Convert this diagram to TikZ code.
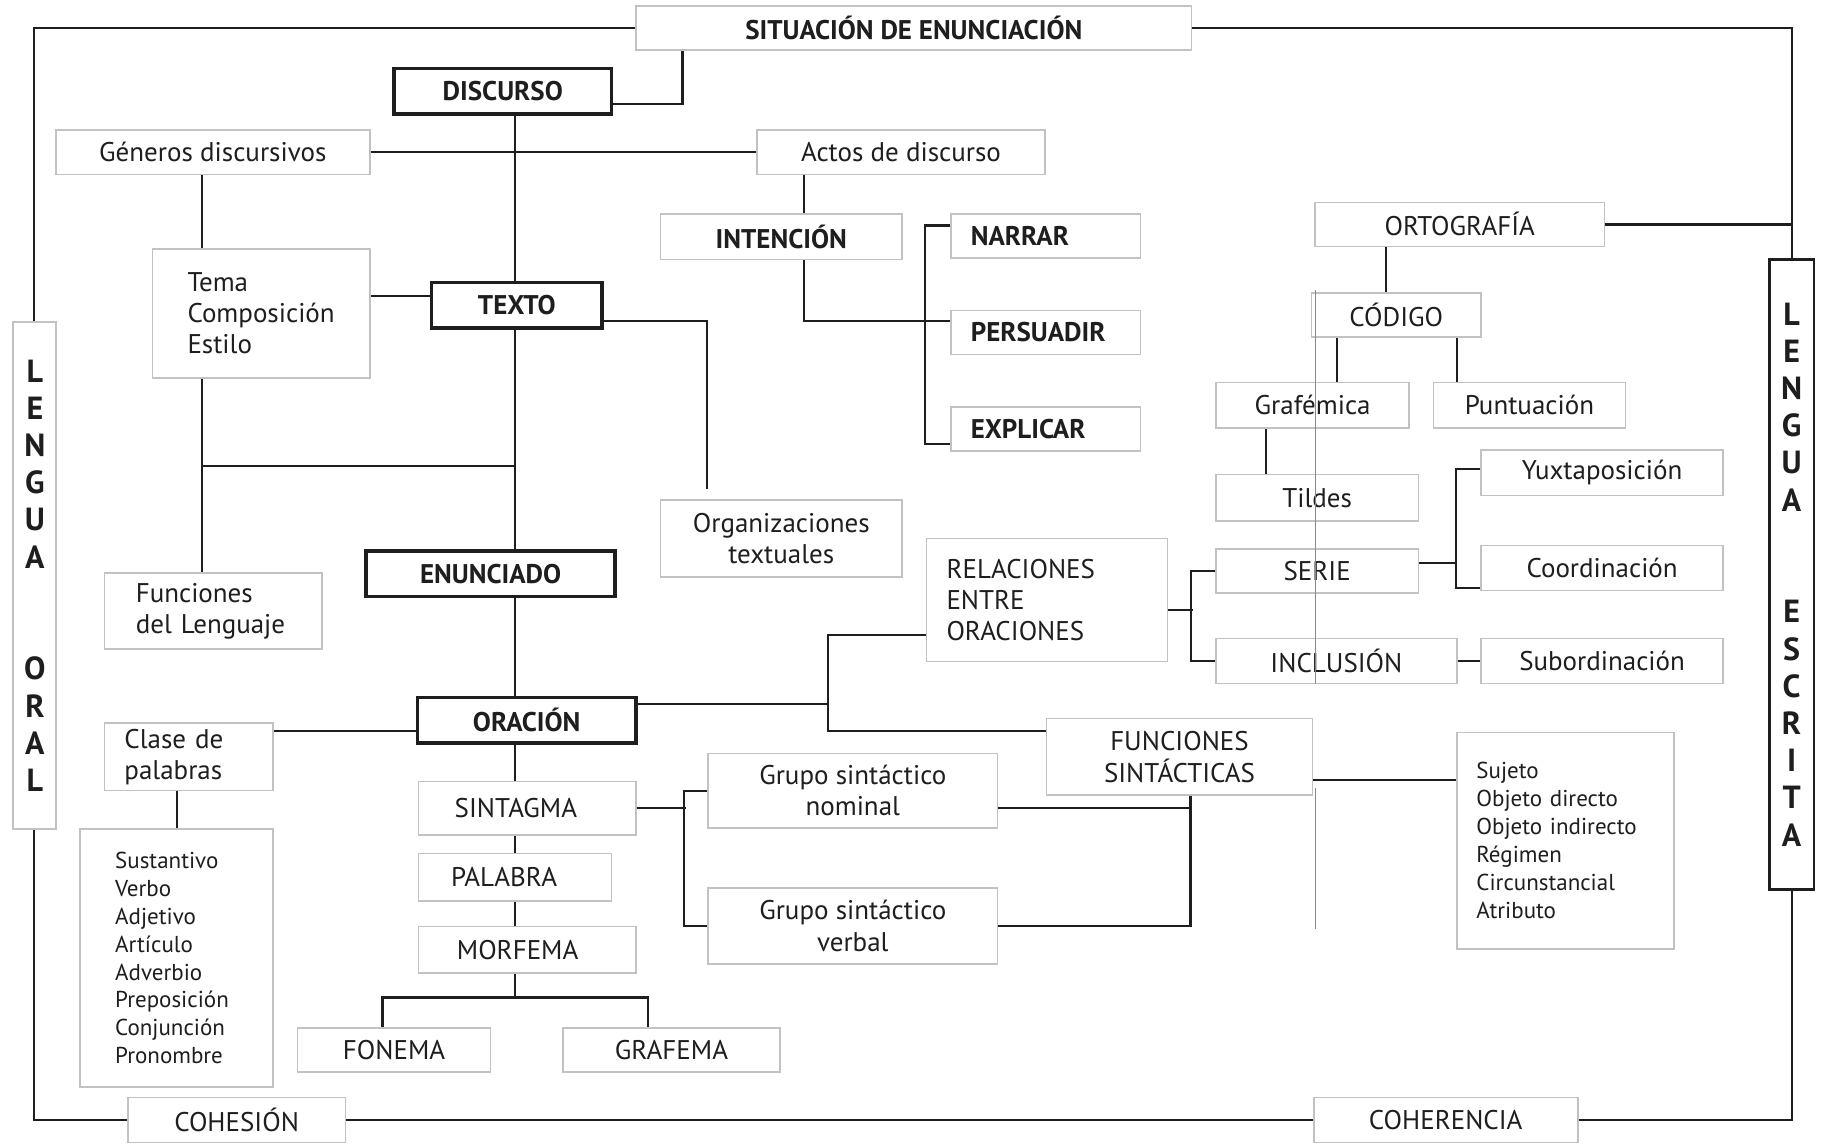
\documentclass[tikz,border=0pt]{standalone}
\usepackage{fontspec}
\setmainfont{PT Sans}
\usepackage{xcolor}
\usepackage{tikz}
\definecolor{boxgray}{HTML}{C2C2C2}
\definecolor{ink}{HTML}{1E1E1E}
\newcommand{\cmapfont}{\fontsize{27}{31.4}\selectfont}
\newcommand{\cmapsmall}{\fontsize{23}{27.9}\selectfont}
\newcommand{\cmapletter}{\fontsize{32}{32}\selectfont\bfseries}
\hyphenpenalty=10000
\tikzset{
  box/.style 2 args={draw=boxgray, line width=1.6pt, fill=white, inner sep=0pt,
    minimum width=#1pt, minimum height=#2pt, text=ink, font=\cmapfont},
  boldbox/.style 2 args={box={#1}{#2}, font=\cmapfont\bfseries},
  mainbox/.style 2 args={box={#1}{#2}, draw=ink, line width=3.6pt, font=\cmapfont\bfseries},
  vletter/.style={font=\cmapletter, text=ink, inner sep=0pt}
}

\begin{document}
\begin{tikzpicture}[x=1pt, y=-1pt]
        \useasboundingbox[fill=white] (0,0) rectangle (1823,1144);
        \begin{scope}
          \node[boldbox={555.7}{44}] (sit) at (913.8,28) {SITUACIÓN DE ENUNCIACIÓN};
          \node[mainbox={217.5}{45.4}] (disc) at (502.8,91.3) {DISCURSO};
          \node[mainbox={170.9}{45.4}] (texto) at (516.8,305.2) {TEXTO};
          \node[mainbox={248.8}{45.3}] (enun) at (490.6,573.7) {ENUNCIADO};
          \node[mainbox={218.5}{45.3}] (orac) at (526.7,720.2) {ORACIÓN};
          \node[box={217.4}{53.4}, align=left, text width=145pt] (sint) at (527.2,808) {SINTAGMA};
          \node[box={193}{47.7}, align=left, text width=128pt] (pal) at (515,877.2) {PALABRA};
          \node[box={217.4}{46.5}, align=left, text width=140.6pt] (morf) at (527.2,949.9) {MORFEMA};
          \node[box={193}{44.2}] (fon) at (394.1,1049.8) {FONEMA};
          \node[box={217.4}{44.2}] (grafe) at (671.4,1049.8) {GRAFEMA};
          \node[box={313.9}{44.2}] (gen) at (212.8,152.3) {Géneros discursivos};
          \node[box={288.3}{44.2}] (actos) at (901,152.3) {Actos de discurso};
          \node[box={217.4}{129}, align=left, text width=147pt] (tema) at (261,313.3) {Tema\\Composición\\Estilo};
          \node[box={217.4}{75.5}, align=left, text width=155pt] (func) at (213.3,611) {Funciones\\del Lenguaje};
          \node[box={241.8}{76.8}, align=center] (orga) at (781.3,538.3) {Organizaciones\\textuales};
          \node[boldbox={241.8}{45.4}] (inten) at (781.3,236.6) {INTENCIÓN};
          \node[boldbox={189.5}{44.2}, align=left, text width=150pt] (narr) at (1045.8,236) {NARRAR};
          \node[boldbox={189.5}{44.2}, align=left, text width=150pt] (pers) at (1045.8,332.5) {PERSUADIR};
          \node[boldbox={189.5}{44.2}, align=left, text width=150pt] (expl) at (1045.8,429) {EXPLICAR};
          \node[box={168.6}{67.5}, align=left, text width=129pt] (clase) at (188.9,756.9) {Clase de\\palabras};
          \node[box={193}{258.1}, align=left, text width=123pt, font=\cmapsmall] (clist) at (176.7,958) {Sustantivo\\Verbo\\Adjetivo\\Artículo\\Adverbio\\Preposición\\Conjunción\\Pronombre};
          \node[box={240.7}{123.2}, align=left, text width=201pt] (rel) at (1047,600) {RELACIONES\\ENTRE\\ORACIONES};
          \node[box={202.3}{44.2}] (serie) at (1317.2,570.8) {SERIE};
          \node[box={240.6}{45.3}] (incl) at (1336.4,661) {INCLUSIÓN};
          \node[box={241.8}{45.3}] (subo) at (1602.1,661) {Subordinación};
          \node[box={241.8}{45.4}] (yuxt) at (1602.1,472.6) {Yuxtaposición};
          \node[box={241.8}{45.3}] (coord) at (1602.1,568) {Coordinación};
          \node[box={289.5}{44.2}] (orto) at (1459.7,224.4) {ORTOGRAFÍA};
          \node[box={169.8}{44.2}] (cod) at (1396.3,315.1) {CÓDIGO};
          \node[box={193}{45.3}] (grafm) at (1312.6,405.2) {Grafémica};
          \node[box={191.8}{45.3}] (punt) at (1529.4,405.2) {Puntuación};
          \node[box={202.3}{46.5}] (tild) at (1317.2,497.6) {Tildes};
          \node[box={266.3}{76.7}, align=center] (fsin) at (1179.5,756.9) {FUNCIONES\\SINTÁCTICAS};
          \node[box={217.4}{216.3}, align=left, text width=178pt, font=\cmapsmall] (suj) at (1565.4,840.6) {Sujeto\\Objeto directo\\Objeto indirecto\\Régimen\\Circunstancial\\Atributo};
          \node[box={289.5}{74.4}, align=center] (gnom) at (852.8,790.6) {Grupo sintáctico\\nominal};
          \node[box={289.5}{75.6}, align=center] (gverb) at (852.8,926) {Grupo sintáctico\\verbal};
          \node[box={217.4}{45}] (coh) at (236.6,1120) {COHESIÓN};
          \node[box={264}{45}] (coher) at (1445.7,1120) {COHERENCIA};
          \node[box={43}{506.9}] (lor) at (34.3,575.5) {};
          \node[box={44.2}{630.1}, draw=ink, line width=2.4pt] (les) at (1791.6,574.4) {};
        \end{scope}
        \foreach \ch [count=\i from 0] in {L,E,N,G,U,A,{},{},O,R,A,L}
          \node[vletter] (lo\i) at (34.9,{575.5+(\i-5.5)*37.2}) {\ch};
        \foreach \ch [count=\i from 0] in {L,E,N,G,U,A,{},{},E,S,C,R,I,T,A}
          \node[vletter] (le\i) at (1791.6,{574.4+(\i-7)*37.2}) {\ch};
        \coordinate (spine) at (515,0);
        \coordinate (lbus) at (202,0);
        \coordinate (j1) at (202,466);
        \coordinate (j2) at (827.8,0);
        \coordinate (j3) at (515,997.5);
        \begin{scope}[line width=2.2pt, color=ink]
          \draw (lor.north) |- (sit.west);
          \draw (sit.east) -| (les.north);
          \draw (lor.south) |- (coh.west);
          \draw (coh.east) -- (coher.west);
          \draw (coher.east) -| (les.south);
          \draw ([yshift=-13pt]disc.east) -| ([xshift=-231.4pt]sit.south);
          \draw (disc.south -| spine) -- (texto.north -| spine);
          \draw (gen.east) -- (actos.west);
          \draw (gen.south -| lbus) -- (tema.north -| lbus);
          \draw ([yshift=9pt]texto.west) -- ([yshift=9pt]texto.west -| tema.east);
          \draw (tema.south -| lbus) -- (func.north -| lbus);
          \draw (j1) -- (j1 -| spine);
          \draw (texto.south -| spine) -- (enun.north -| spine);
          \draw ([yshift=-16pt]texto.east) -| ([xshift=-74.4pt,yshift=10pt]orga.north);
          \draw ([xshift=23pt]inten.north) -- ([xshift=23pt]inten.north |- actos.south);
          \draw ([xshift=23pt]inten.south) |- ([yshift=11.6pt]pers.west);
          \draw ([yshift=10.5pt]narr.west) -- ++(-25.6,0) |- ([yshift=-15pt]expl.west);
          \draw (enun.south -| spine) -- (orac.north -| spine);
          \draw ([yshift=-11pt]orac.west) -- ([yshift=-11pt]orac.west -| clase.east);
          \draw (clist.north) -- (clist.north |- clase.south);
          \draw ([yshift=16pt]orac.east) -- ([yshift=16pt]orac.east -| j2);
          \draw ([yshift=-35pt]rel.west) -| ([yshift=26pt]fsin.west -| j2) -- ([yshift=26pt]fsin.west);
          \draw ([yshift=-10pt]rel.east) -- ++(24.4,0);
          \draw (serie.west) -- ++(-24.4,0) |- (incl.west);
          \draw (incl.east) -- (subo.west);
          \draw ([yshift=8pt]serie.east) -- ++(38.3,0);
          \draw ([yshift=4pt]yuxt.west) -- ++(-24.5,0) |- ([yshift=-20pt]coord.west);
          \draw (orto.east) -- (orto.east -| les.north);
          \draw ([xshift=-10.5pt]cod.north) -- ([xshift=-10.5pt]cod.north |- orto.south);
          \draw ([xshift=24.4pt]grafm.north) -- ([xshift=24.4pt]grafm.north |- cod.south);
          \draw ([xshift=-72.7pt]punt.north) -- ([xshift=-72.7pt]punt.north |- cod.south);
          \draw ([xshift=-51.2pt]tild.north) -- ([xshift=-51.2pt]tild.north |- grafm.south);
          \draw ([yshift=-23pt]fsin.east) -- ([yshift=-23pt]fsin.east -| suj.west);
          \draw ([xshift=11pt]fsin.south) |- (gverb.east);
          \draw ([yshift=-17pt]gnom.east) -| ([xshift=11pt]fsin.south);
          \draw (sint.east) -- ++(48.9,0);
          \draw (gnom.west) -- ++(-23.2,0) |- (gverb.west);
          \draw (orac.south -| spine) -- (sint.north -| spine);
          \draw (sint.south -| spine) -- (pal.north -| spine);
          \draw (pal.south -| spine) -- (morf.north -| spine);
          \draw (morf.south -| spine) -- (j3);
          \draw ([xshift=-11.6pt]fon.north) |- (j3) -| ([xshift=-23.8pt]grafe.north);
        \end{scope}
        \draw[boxgray!70!black, line width=0.6pt] (1315,290) -- (1315,684) (1315,788) -- (1315,929);
      \end{tikzpicture}
\end{document}
